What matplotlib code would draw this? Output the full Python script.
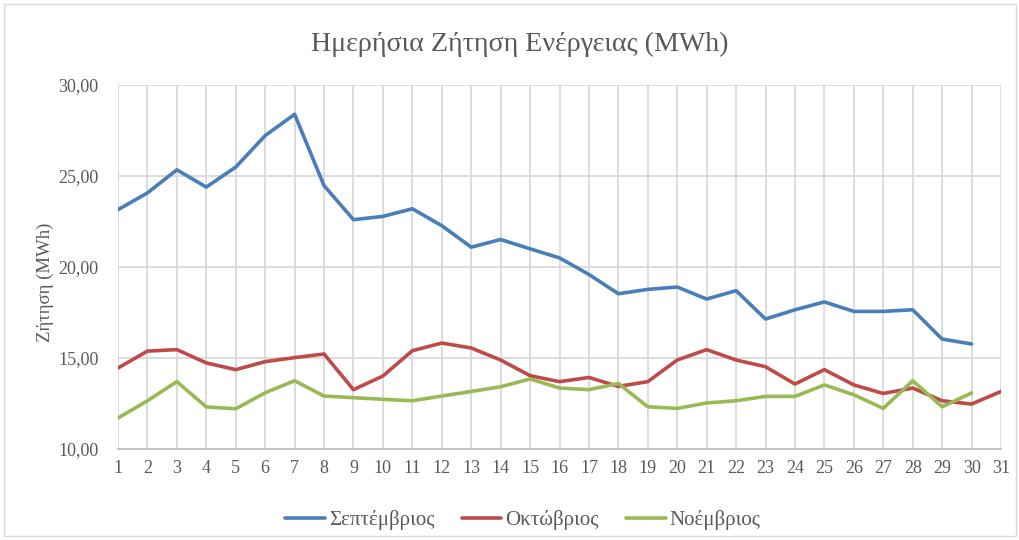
import matplotlib
matplotlib.use("Agg")
import matplotlib.pyplot as plt
from matplotlib.ticker import FuncFormatter, MultipleLocator
from matplotlib.patches import Rectangle

days = list(range(1, 32))
september = [23.15, 24.07, 25.34, 24.39, 25.49, 27.22, 28.39, 24.47, 22.60, 22.78,
             23.20, 22.27, 21.09, 21.51, 21.00, 20.50, 19.59, 18.53, 18.77, 18.90,
             18.24, 18.70, 17.14, 17.65, 18.08, 17.56, 17.56, 17.65, 16.04, 15.77]
october = [14.45, 15.38, 15.46, 14.73, 14.36, 14.80, 15.02, 15.22, 13.26, 14.01,
           15.40, 15.82, 15.55, 14.89, 14.03, 13.70, 13.93, 13.44, 13.70, 14.89,
           15.46, 14.89, 14.52, 13.57, 14.36, 13.52, 13.05, 13.35, 12.65, 12.47,
           13.16]
november = [11.70, 12.65, 13.70, 12.31, 12.21, 13.09, 13.75, 12.91, 12.82, 12.73,
            12.65, 12.91, 13.16, 13.42, 13.85, 13.35, 13.26, 13.60, 12.32, 12.23,
            12.53, 12.65, 12.89, 12.89, 13.52, 12.98, 12.23, 13.75, 12.32, 13.08]

series_names = ["Σεπτέμβριος", "Οκτώβριος", "Νοέμβριος"]
colors = ["#4a7ebb", "#be4b48", "#98b954"]
title = "Ημερήσια Ζήτηση Ενέργειας (MWh)"
ylabel = "Ζήτηση (MWh)"

plt.rcParams['font.family'] = ['Liberation Serif', 'DejaVu Serif']
text_color = "#595959"

fig = plt.figure(figsize=(10.2, 5.4), dpi=100)
ax = fig.add_axes([118/1020, 1 - 449/540, (1001-118)/1020, (449-85)/540])

for vals, name, c in zip([september, october, november], series_names, colors):
    ax.plot(days[:len(vals)], vals, color=c, lw=2.6, label=name,
            solid_joinstyle='round', solid_capstyle='round', zorder=3)

ax.set_xlim(1, 31)
ax.set_ylim(10, 30)
ax.set_xticks(days)
ax.yaxis.set_major_locator(MultipleLocator(5))
ax.yaxis.set_major_formatter(FuncFormatter(lambda v, p: f"{v:.2f}".replace(".", ",")))
ax.grid(True, color="#d9d9d9", lw=1.3, zorder=0)
for s in ["top", "right", "left"]:
    ax.spines[s].set_visible(False)
ax.spines["bottom"].set_color("#bfbfbf")
ax.spines["bottom"].set_linewidth(1.3)
ax.tick_params(axis="both", length=0, labelsize=13, colors=text_color, pad=8)
ax.tick_params(axis="y", pad=14)

ax.set_ylabel(ylabel, fontsize=13.5, color=text_color)
ax.yaxis.set_label_coords(-64/883, (449-282)/364)
fig.text(519.5/1020, 1 - 44/540, title, ha="center", va="center", fontsize=20.2, color=text_color)

leg = fig.legend(loc="center", bbox_to_anchor=(523/1020, 1 - 520/540), ncol=3,
                 frameon=False, fontsize=15, handlelength=1.9, columnspacing=1.3,
                 handletextpad=0.2)
for t in leg.get_texts():
    t.set_color(text_color)

fig.patches.append(Rectangle((4/1020, 4/540), 1012/1020, 532/540, transform=fig.transFigure,
                             fill=False, edgecolor="#d9d9d9", lw=1))

fig.savefig("out.png", dpi=100)
